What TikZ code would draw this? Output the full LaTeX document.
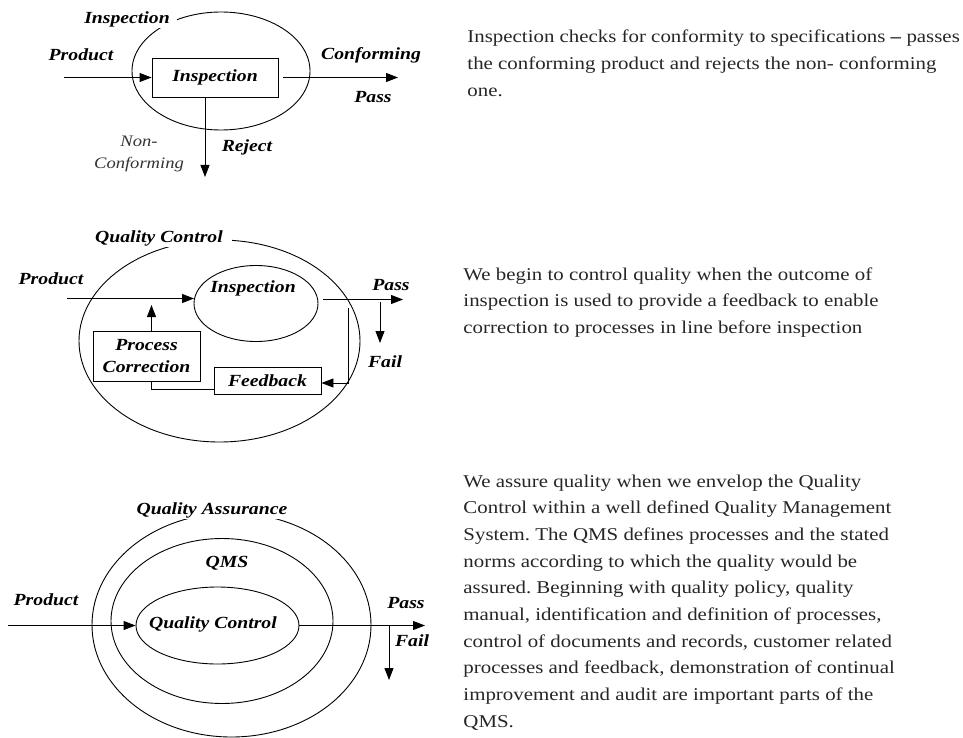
\documentclass[tikz,border=0pt]{standalone}
\usepackage{fontspec}
\setmainfont{Liberation Serif}[FakeStretch=1.16]
\usetikzlibrary{arrows.meta,shapes.geometric}
\frenchspacing
\begin{document}
\begin{tikzpicture}[x=1pt,y=-1pt,line width=0.9pt,
  lbl/.style={font=\fontsize{17}{21}\selectfont\bfseries\itshape,inner sep=1pt},
  nlbl/.style={font=\fontsize{16}{22}\selectfont\itshape,text=black!80,align=center,inner sep=1pt},
  boxnode/.style={draw,font=\fontsize{17}{21}\selectfont\bfseries\itshape,inner sep=0pt,align=center},
  ovalnode/.style={draw,ellipse,inner sep=0pt},
  arr/.style={-{Triangle[length=12pt,width=9pt]}},
  para/.style={font=\fontsize{18}{26.7}\selectfont\frenchspacing,text=black!85,align=left,anchor=base west,inner sep=0pt}]
\useasboundingbox (0,0) rectangle (963,738);

% ---------- Diagram 1 ----------
\node[ovalnode,minimum width=178pt,minimum height=118pt] (e1) at (221,71) {};
\node[lbl,fill=white,inner xsep=7pt] (t1) at (127,19) {Inspection};
\node[lbl] (p1) at (81,55) {Product};
\node[boxnode,minimum width=126pt,minimum height=39pt] (b1) at (215,77.5) {Inspection};
\coordinate (s1) at (64,77.5);
\coordinate (c1) at (398,77.5);
\coordinate (r1) at (205,177);
\draw[arr] (s1) -- (b1.west);
\draw[arr] ([xshift=5pt]b1.east) -- (c1);
\draw[arr] (b1.south -| r1) -- (r1);
\node[lbl] (cf1) at (371,55) {Conforming};
\node[lbl] (ps1) at (373,97) {Pass};
\node[lbl] (rj1) at (247,147) {Reject};
\node[nlbl] (nc1) at (139,154) {Non-\\Conforming};

% ---------- Diagram 2 ----------
\node[ovalnode,minimum width=281pt,minimum height=202pt] (e2) at (219.5,341) {};
\node[lbl,fill=white,inner xsep=9pt] (t2) at (159,238) {Quality Control};
\node[lbl] (p2) at (51,279) {Product};
\node[ovalnode,minimum width=124pt,minimum height=76pt] (i2) at (256,303.5) {};
\node[lbl] (i2t) at (253,288.5) {Inspection};
\coordinate (s2) at (67,298.5);
\coordinate (s2e) at (194,298.5);
\draw[arr] (s2) -- (s2e);
\coordinate (pa2) at (323,299.5);
\coordinate (pe2) at (403,299.5);
\draw[arr] (pa2) -- (pe2);
\coordinate (fa2) at (380,302);
\coordinate (fe2) at (380,343);
\draw[arr] (fa2) -- (fe2);
\node[lbl] (ps2) at (391,285) {Pass};
\node[lbl] (fl2) at (385,362) {Fail};
\node[boxnode,minimum width=107pt,minimum height=27pt] (fb) at (267.5,380.5) {Feedback};
\node[boxnode,minimum width=107pt,minimum height=50pt,font=\fontsize{17}{22}\selectfont\bfseries\itshape] (pc) at (146.5,356) {Process\\Correction};
\coordinate (v2) at (348,308);
\draw[arr] (v2) |- ([yshift=-2.5pt]fb.east);
\coordinate (u2) at (151.5,305);
\draw ([yshift=-8.5pt]fb.west) -| (pc.south -| u2);
\draw[arr] (pc.north -| u2) -- (u2);

% ---------- Diagram 3 ----------
\node[ovalnode,minimum width=279pt,minimum height=224pt] (e3o) at (231.5,625) {};
\node[ovalnode,minimum width=222pt,minimum height=165pt] (e3m) at (222,621) {};
\node[ovalnode,minimum width=163pt,minimum height=77pt] (e3i) at (217.5,625.5) {};
\node[lbl] (qc3) at (213,624) {Quality Control};
\node[lbl,fill=white,inner xsep=3pt] (t3) at (212,510) {Quality Assurance};
\node[lbl] (qms3) at (227,563) {QMS};
\node[lbl] (p3) at (46,600) {Product};
\coordinate (s3) at (8,625.5);
\coordinate (pe3) at (425,625.5);
\coordinate (fa3) at (389,625.5);
\coordinate (fe3) at (389,680);
\draw[arr] (s3) -- (e3i.west);
\draw[arr] (e3i.east) -- (pe3);
\draw[arr] (fa3) -- (fe3);
\node[lbl] (ps3) at (406,603) {Pass};
\node[lbl] (fl3) at (412,641) {Fail};

% ---------- Descriptions (anchored at the last line's baseline) ----------
\node[para] (d1) at (467,96.4) {Inspection checks for conformity to specifications \textbf{--} passes\\the conforming product and rejects the non- conforming\\one.};
\node[para] (d2) at (463,333.4) {We begin to control quality when the outcome of\\inspection is used to provide a feedback to enable\\correction to processes in line before inspection};
\node[para] (d3) at (463,727.3) {We assure quality when we envelop the Quality\\Control within a well defined Quality Management\\System. The QMS defines processes and the stated\\norms according to which the quality would be\\assured. Beginning with quality policy, quality\\manual, identification and definition of processes,\\control of documents and records, customer related\\processes and feedback, demonstration of continual\\improvement and audit are important parts of the\\QMS.};
\end{tikzpicture}
\end{document}
